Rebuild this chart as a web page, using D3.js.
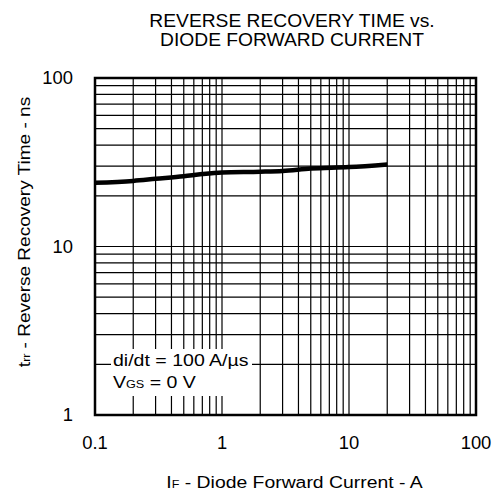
<!DOCTYPE html>
<html><head><meta charset="utf-8">
<script src="https://cdn.jsdelivr.net/npm/d3@7"></script>
<style>
html,body{margin:0;padding:0;background:#fff;}
text{font-family:"Liberation Sans",Arial,sans-serif;fill:#000;}
</style></head>
<body><svg id="c" width="497" height="496"></svg>
<script>
const current = [0.1, 0.2, 0.3, 0.5, 0.7, 1, 2, 3, 5, 10, 20];
const trr     = [23.9, 24.5, 25.2, 26.1, 26.9, 27.5, 27.8, 28.1, 29.0, 29.6, 30.7];
const xTicks = [0.1, 1, 10, 100];
const xTickLabels = ["0.1", "1", "10", "100"];
const yTicks = [1, 10, 100];
const yTickLabels = ["1", "10", "100"];
const titleLines = ["REVERSE RECOVERY TIME vs.", "DIODE FORWARD CURRENT"];

const svg = d3.select("#c");
const L = 95, R = 476, T = 78, B = 415;
const x = d3.scaleLog().domain([0.1, 100]).range([L, R]);
const y = d3.scaleLog().domain([1, 100]).range([B, T]);

// grid
const xGrid = [];
for (let d = 0.1; d < 100; d *= 10) for (let k = 1; k <= 9; k++) { const v = +(d*k).toPrecision(3); if (v > 0.1 && v < 100) xGrid.push(v); }
const yGrid = [];
for (let d = 1; d < 100; d *= 10) for (let k = 1; k <= 9; k++) { const v = d*k; if (v > 1 && v < 100) yGrid.push(v); }

const g = svg.append("g");
g.selectAll("line.vx").data(xGrid).enter().append("line")
  .attr("x1", d => x(d)).attr("x2", d => x(d)).attr("y1", T).attr("y2", B)
  .attr("stroke", "#000").attr("stroke-width", 1.2);
g.selectAll("line.hy").data(yGrid).enter().append("line")
  .attr("x1", L).attr("x2", R).attr("y1", d => y(d)).attr("y2", d => y(d))
  .attr("stroke", "#000").attr("stroke-width", 1.2);

function stext(parent, tx, ty, sx, size, anchor, rot) {
  const gg = parent.append("g").attr("transform", `translate(${tx},${ty})` + (rot ? ` rotate(${rot})` : "") + ` scale(${sx},1)`);
  return gg.append("text").attr("x", 0).attr("y", 0).attr("font-size", size).attr("text-anchor", anchor);
}

// annotation box
svg.append("rect").attr("x", 111).attr("y", 349).attr("width", 141).attr("height", 47).attr("fill", "#fff");
const a1 = stext(svg, 113, 366, 1.15, 17, "start");
a1.text("di/dt = 100 A/\u00B5s");
const a2 = stext(svg, 113, 388, 1.15, 17, "start");
a2.append("tspan").text("V");
a2.append("tspan").attr("font-size", 11).text("GS");
a2.append("tspan").text(" = 0 V");

// curve
const line = d3.line().x((d, i) => x(current[i])).y(d => y(d)).curve(d3.curveMonotoneX);
svg.append("path").datum(trr).attr("d", line).attr("fill", "none")
  .attr("stroke", "#000").attr("stroke-width", 4.5);

// frame
svg.append("rect").attr("x", L).attr("y", T).attr("width", R - L).attr("height", B - T)
  .attr("fill", "none").attr("stroke", "#000").attr("stroke-width", 2.5);

// tick labels
xTicks.forEach((d, i) => { stext(svg, x(d), 449, 1.05, 17.5, "middle").text(xTickLabels[i]); });
yTicks.forEach((d, i) => { stext(svg, 73, y(d) + 6, 1.05, 17.5, "end").text(yTickLabels[i]); });

// title
titleLines.forEach((t, i) => { stext(svg, 292, 27 + i * 18.5, 1.1, 17.5, "middle").text(t); });

// x label
const xl = stext(svg, 294.5, 488, 1.14, 17, "middle");
xl.append("tspan").text("I");
xl.append("tspan").attr("font-size", 11).text("F");
xl.append("tspan").text(" - Diode Forward Current - A");

// y label
const yl = stext(svg, 29.5, 232, 1.12, 17, "middle", -90);
yl.append("tspan").text("t");
yl.append("tspan").attr("font-size", 11).text("rr");
yl.append("tspan").text(" - Reverse Recovery Time - ns");
</script></body></html>
